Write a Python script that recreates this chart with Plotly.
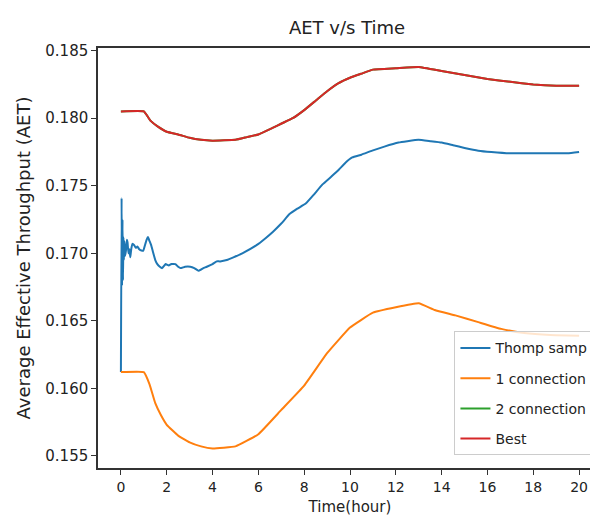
import plotly.graph_objects as go

# ---- data ----
thomp_t = [0, 0.03, 0.05, 0.07, 0.09, 0.11, 0.13, 0.15, 0.18, 0.22, 0.26, 0.29, 0.33, 0.37,
           0.41, 0.45, 0.5, 0.58, 0.65, 0.72, 0.8, 0.9, 0.98, 1.05, 1.12, 1.18, 1.25, 1.32,
           1.4, 1.5, 1.59, 1.7, 1.8, 1.95, 2.09, 2.2, 2.38, 2.5, 2.6, 2.8, 3.03, 3.2, 3.39,
           3.6, 3.75, 4.0, 4.18, 4.33, 4.62, 4.91, 5.3, 5.92, 6.3, 6.64, 7.0, 7.36, 7.7,
           8.08, 8.4, 8.8, 9.2, 9.52, 9.8, 10.1, 10.5, 10.97, 11.5, 12.12, 12.5, 12.99,
           13.5, 14.0, 14.5, 15.0, 15.6, 16.17, 17.0, 17.75, 18.3, 18.9, 19.5, 20.0]
thomp_v = [0.1612, 0.1741, 0.1676, 0.1725, 0.1680, 0.1712, 0.1695, 0.1709, 0.1698, 0.1702,
           0.1710, 0.1708, 0.1700, 0.1703, 0.1697, 0.1703, 0.1707, 0.1706, 0.1704, 0.1705,
           0.1703, 0.1702, 0.1702, 0.1706, 0.1710, 0.1712, 0.1709, 0.1706, 0.1701, 0.1695,
           0.1692, 0.1690, 0.1689, 0.1692, 0.1691, 0.1692, 0.1692, 0.1690, 0.1689, 0.1690,
           0.1690, 0.1689, 0.1687, 0.1689, 0.1690, 0.1692, 0.1694, 0.1694, 0.1695, 0.1697,
           0.1700, 0.1706, 0.1711, 0.1716, 0.1722, 0.1729, 0.1733, 0.1737, 0.1743, 0.1751,
           0.1757, 0.1762, 0.1767, 0.1771, 0.1773, 0.1776, 0.1779, 0.1782, 0.1783, 0.1784,
           0.1783, 0.1782, 0.1780, 0.1778, 0.1776, 0.1775, 0.1774, 0.1774, 0.1774, 0.1774,
           0.1774, 0.1775]

one_t = [0, 1, 1.25, 1.5, 1.75, 2, 2.5, 3, 3.5, 4, 5, 6, 7, 8, 9, 10, 11, 12, 13,
         13.7, 14.6, 15.6, 16.6, 17.6, 18.75, 20]
one_v = [0.1612, 0.1612, 0.1603, 0.1589, 0.1580, 0.1573, 0.1565, 0.1560, 0.1557, 0.15555,
         0.1557, 0.1566, 0.1584, 0.1602, 0.1626, 0.1645, 0.1656, 0.1660, 0.1663,
         0.1658, 0.1654, 0.1649, 0.1644, 0.1641, 0.16395, 0.1639]

best_t = [0, 1.0, 1.3, 1.6, 2, 2.5, 3, 3.5, 4, 5, 5.5, 6, 6.64, 7.5, 8, 8.5, 9, 9.5, 10,
          10.5, 11, 12, 13, 14, 15, 16, 17, 18, 19, 20]
best_v = [0.1805, 0.1805, 0.1798, 0.1794, 0.1790, 0.1788, 0.17855, 0.1784, 0.17834, 0.1784,
          0.1786, 0.1788, 0.1793, 0.1800, 0.1806, 0.1813, 0.1820, 0.1826, 0.1830, 0.1833,
          0.1836, 0.1837, 0.1838, 0.1835, 0.1832, 0.1829, 0.1827, 0.1825, 0.1824, 0.1824]

# "2 connection" coincides with "Best" (hidden beneath it in the reference)
two_t = best_t
two_v = best_v

x_ticks = [0, 2, 4, 6, 8, 10, 12, 14, 16, 18, 20]
y_ticks = [0.155, 0.160, 0.165, 0.170, 0.175, 0.180, 0.185]

FONT = "DejaVu Sans"

fig = go.Figure()
series = [
    ("Thomp samp", thomp_t, thomp_v, "#1f77b4", 0.3),
    ("1 connection", one_t, one_v, "#ff7f0e", 0.3),
    ("2 connection", two_t, two_v, "#2ca02c", 0.3),
    ("Best", best_t, best_v, "#d62728", 0.3),
]
for i, (name, t, v, c, sm) in enumerate(series):
    fig.add_trace(go.Scatter(x=t, y=v, mode="lines", name=name, legendgroup=str(i),
                             line=dict(color=c, width=2, shape="spline", smoothing=sm)))

fig.update_layout(
    width=598, height=520,
    margin=dict(l=90, r=2, t=40, b=60),
    paper_bgcolor="white", plot_bgcolor="white",
    font=dict(family=FONT, size=15, color="#222"),
    title=dict(text="AET v/s Time", x=0.567, xanchor="center", y=0.962, yanchor="middle",
               font=dict(family=FONT, size=18, color="#222")),
    showlegend=True,
    legend=dict(x=0.985, xanchor="right", y=0.03, yanchor="bottom",
                bgcolor="rgba(255,255,255,0.8)", bordercolor="#cccccc", borderwidth=1,
                font=dict(family=FONT, size=14, color="#222"),
                tracegroupgap=9, traceorder="grouped", itemwidth=30),
)
fig.update_xaxes(
    range=[-1, 21], tickvals=x_ticks, ticktext=[str(v) for v in x_ticks],
    showgrid=False, zeroline=False, showline=True, mirror=True,
    linecolor="#333", linewidth=1.5, ticks="outside", ticklen=5, tickcolor="#333",
    tickfont=dict(family=FONT, size=14, color="#222"),
    title=dict(text="Time(hour)", font=dict(family=FONT, size=15, color="#222"), standoff=8),
)
fig.update_yaxes(
    range=[0.1541, 0.1852], tickvals=y_ticks, ticktext=["%.3f" % v for v in y_ticks],
    showgrid=False, zeroline=False, showline=True, mirror=True,
    linecolor="#333", linewidth=1.5, ticks="outside", ticklen=5, tickcolor="#333",
    tickfont=dict(family=FONT, size=15, color="#222"),
    title=dict(text="Average Effective Throughput (AET)",
               font=dict(family=FONT, size=18, color="#222"), standoff=10),
)

fig.write_html("out.html")
